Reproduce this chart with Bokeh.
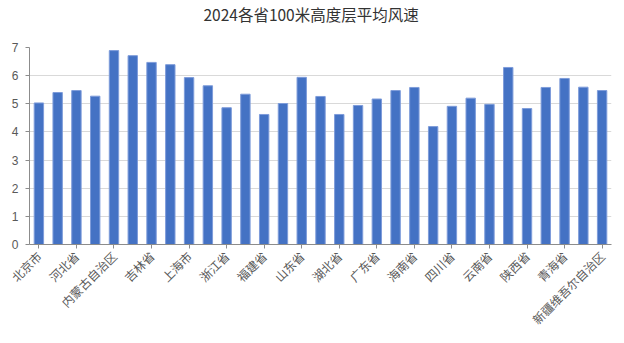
from math import pi
from bokeh.plotting import figure
from bokeh.models import Range1d, FixedTicker, ColumnDataSource, Title
from bokeh.embed import file_html
from bokeh.resources import INLINE

provinces = ["北京市", "天津市", "河北省", "山西省", "内蒙古自治区", "辽宁省", "吉林省", "黑龙江省",
             "上海市", "江苏省", "浙江省", "安徽省", "福建省", "江西省", "山东省", "河南省",
             "湖北省", "湖南省", "广东省", "广西壮族自治区", "海南省", "重庆市", "四川省", "贵州省",
             "云南省", "西藏自治区", "陕西省", "甘肃省", "青海省", "宁夏回族自治区", "新疆维吾尔自治区"]
wind_speed = [5.03, 5.40, 5.47, 5.27, 6.89, 6.71, 6.47, 6.39,
              5.93, 5.64, 4.86, 5.34, 4.62, 5.01, 5.94, 5.26,
              4.62, 4.94, 5.17, 5.47, 5.58, 4.19, 4.91, 5.20,
              4.98, 6.29, 4.83, 5.58, 5.90, 5.59, 5.47]
y_ticks = [0, 1, 2, 3, 4, 5, 6, 7]
title_text = "2024各省100米高度层平均风速"

idx = list(range(len(provinces)))
src = ColumnDataSource(dict(x=idx, top=wind_speed, name=provinces))

p = figure(width=624, height=343, output_backend="svg", toolbar_location=None,
           x_range=Range1d(-0.5, len(provinces) - 0.5), y_range=Range1d(0, 7),
           min_border_left=29, min_border_right=13, min_border_top=47, min_border_bottom=10,
           frame_width=582, frame_height=197)
p.title = None
p.outline_line_color = None
p.background_fill_color = "white"
p.border_fill_color = "white"

# spacer panel between frame and title (first added = closest to frame), then the title
p.add_layout(Title(text="\u200b", text_font_size="1px", standoff=18, text_color="white"), "above")
p.add_layout(Title(text=title_text, align="left", vertical_align="top",
                   text_font="Noto Sans CJK SC", text_font_size="15.5px",
                   text_font_style="normal", text_color="#333333",
                   offset=174, standoff=0), "above")

p.vbar(x="x", top="top", width=0.5, source=src, fill_color="#4472C4",
       line_color="#7E9CDA", line_width=1)

# y axis
p.yaxis.ticker = FixedTicker(ticks=y_ticks)
p.yaxis.axis_line_color = "#8c8c8c"
p.yaxis.major_tick_line_color = "#8c8c8c"
p.yaxis.major_tick_out = 4
p.yaxis.major_tick_in = 0
p.yaxis.minor_tick_line_color = None
p.yaxis.major_label_text_font = "Liberation Sans"
p.yaxis.major_label_text_font_size = "12px"
p.yaxis.major_label_text_color = "#595959"
p.yaxis.major_label_standoff = 7

# x axis
labeled = idx[::2]
p.xaxis.ticker = FixedTicker(ticks=labeled)
p.xaxis.major_label_overrides = {i: provinces[i] for i in labeled}
p.xaxis.major_label_orientation = pi / 4
p.xaxis.axis_line_color = "#8c8c8c"
p.xaxis.major_tick_line_color = "#8c8c8c"
p.xaxis.major_tick_out = 4
p.xaxis.major_tick_in = 0
p.xaxis.minor_tick_line_color = None
p.xaxis.major_label_text_font = "Noto Sans CJK SC"
p.xaxis.major_label_text_font_size = "12px"
p.xaxis.major_label_text_color = "#595959"
p.xaxis.major_label_standoff = 5

p.xgrid.grid_line_color = None
p.ygrid.ticker = FixedTicker(ticks=y_ticks)
p.ygrid.grid_line_color = "#d9d9d9"
p.ygrid.grid_line_width = 1

open("out.html", "w").write(file_html(p, INLINE))
